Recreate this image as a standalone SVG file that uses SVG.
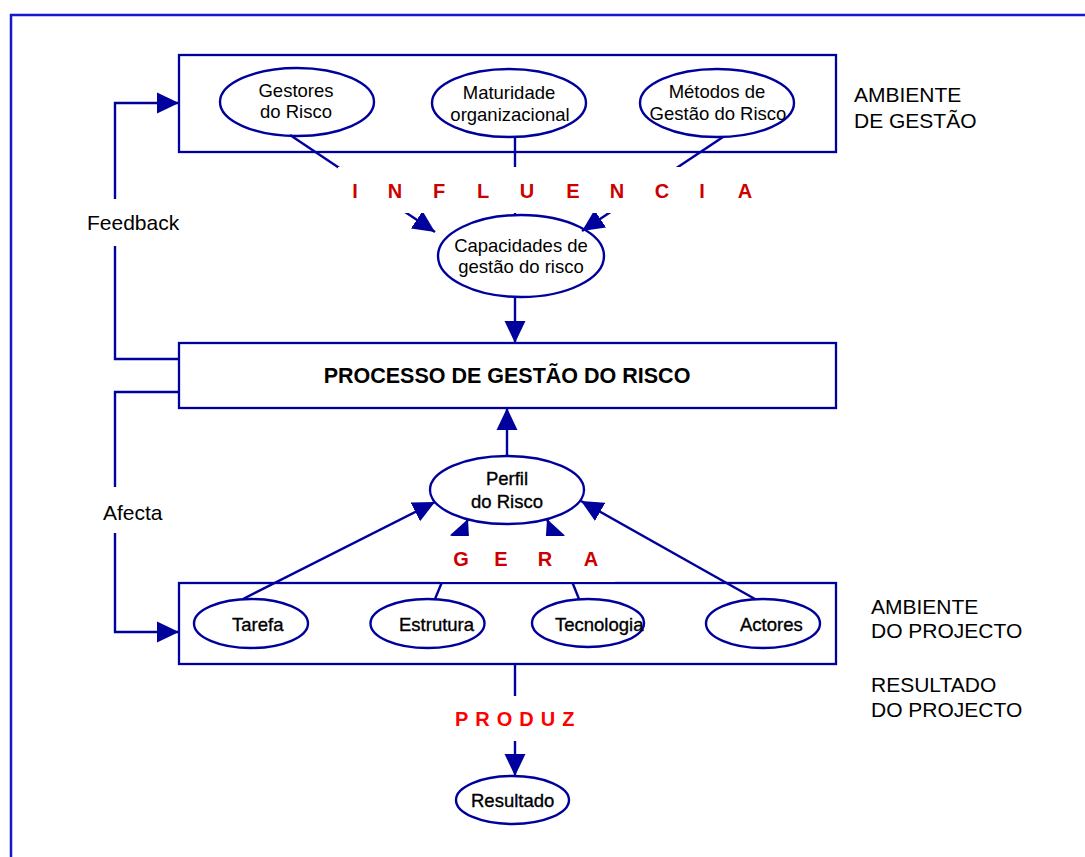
<svg xmlns="http://www.w3.org/2000/svg" width="1085" height="857" viewBox="0 0 1085 857">
  <defs>
    <style>
      .frame { fill: none; stroke: #1717CC; stroke-width: 2.5; }
      .box { fill: #FFFFFF; stroke: #00009C; stroke-width: 2.3; }
      .node { fill: #FFFFFF; stroke: #00009C; stroke-width: 2.4; }
      .conn { fill: none; stroke: #00009C; stroke-width: 2.4; }
      .bg { fill: #FFFFFF; stroke: none; }
      .t { font-family: "Liberation Sans", Arial, sans-serif; font-size: 18.5px; fill: #000000; }
      .tb { stroke: #000000; stroke-width: 0.35; }
      .lbl { font-family: "Liberation Sans", Arial, sans-serif; font-size: 21px; fill: #000000; }
      .title { font-family: "Liberation Sans", Arial, sans-serif; font-size: 21.5px; font-weight: bold; fill: #000000; }
      .verb { font-family: "Liberation Sans", Arial, sans-serif; font-size: 20px; font-weight: bold; fill: #CC0000; }
      .verb2 { font-family: "Liberation Sans", Arial, sans-serif; font-size: 20px; font-weight: bold; fill: #FF0000; letter-spacing: 7px; }
    </style>
    <marker id="arrow" markerUnits="userSpaceOnUse" markerWidth="22" markerHeight="22" viewBox="0 0 21 20" refX="21" refY="10" orient="auto">
      <path d="M0,0 L21,10 L0,20 Z" fill="#00009C"/>
    </marker>
  </defs>

  <!-- page frame -->
  <path class="frame" d="M11,857 L11,15 L1085,15"/>

  <!-- management environment -->
  <g id="ambiente-gestao">
    <rect class="box" x="179" y="55" width="657" height="97"/>
  </g>
  <g id="gestores">
    <ellipse class="node" cx="297" cy="102" rx="77" ry="34"/>
    <text class="t" x="296" y="97" text-anchor="middle">Gestores</text>
    <text class="t" x="296" y="118" text-anchor="middle">do Risco</text>
  </g>
  <g id="maturidade">
    <ellipse class="node" cx="509" cy="103" rx="77" ry="34"/>
    <text class="t" x="509" y="99" text-anchor="middle">Maturidade</text>
    <text class="t" x="510" y="121" text-anchor="middle">organizacional</text>
  </g>
  <g id="metodos">
    <ellipse class="node" cx="717" cy="103" rx="77" ry="34"/>
    <text class="t" x="717" y="98" text-anchor="middle">Métodos de</text>
    <text class="t" x="718" y="120" text-anchor="middle">Gestão do Risco</text>
  </g>
  <g id="capacidades">
    <ellipse class="node" cx="521" cy="256" rx="83" ry="41"/>
    <text class="t" x="521" y="252" text-anchor="middle">Capacidades de</text>
    <text class="t" x="521" y="273" text-anchor="middle">gestão do risco</text>
  </g>

  <!-- risk management process -->
  <g id="processo">
    <rect class="box" x="179" y="343" width="657" height="65"/>
    <text class="title" x="507" y="383" text-anchor="middle">PROCESSO DE GESTÃO DO RISCO</text>
  </g>

  <g id="perfil">
    <ellipse class="node" cx="507" cy="490" rx="77" ry="34"/>
    <text class="t tb" x="507" y="485" text-anchor="middle">Perfil</text>
    <text class="t tb" x="507" y="508" text-anchor="middle">do Risco</text>
  </g>

  <!-- project environment -->
  <g id="ambiente-projecto">
    <rect class="box" x="179" y="583" width="657" height="81"/>
  </g>
  <g id="tarefa">
    <ellipse class="node" cx="251" cy="623.5" rx="57" ry="24.5"/>
    <text class="t tb" x="232" y="631">Tarefa</text>
  </g>
  <g id="estrutura">
    <ellipse class="node" cx="427.5" cy="623.5" rx="57" ry="24.5"/>
    <text class="t tb" x="399" y="631">Estrutura</text>
  </g>
  <g id="tecnologia">
    <ellipse class="node" cx="588" cy="623" rx="56" ry="24"/>
    <text class="t tb" x="555" y="631">Tecnologia</text>
  </g>
  <g id="actores">
    <ellipse class="node" cx="763" cy="623.5" rx="57" ry="24.5"/>
    <text class="t tb" x="740" y="631">Actores</text>
  </g>

  <g id="resultado">
    <ellipse class="node" cx="512.5" cy="800" rx="56.5" ry="24"/>
    <text class="t tb" x="471" y="807">Resultado</text>
  </g>

  <!-- connectors -->
  <g id="connectors">
    <line class="conn" x1="290" y1="135" x2="435" y2="232" marker-end="url(#arrow)"/>
    <line class="conn" x1="515" y1="137" x2="515" y2="215"/>
    <line class="conn" x1="723" y1="137" x2="582" y2="231" marker-end="url(#arrow)"/>
    <line class="conn" x1="515" y1="297" x2="515" y2="343" marker-end="url(#arrow)"/>
    <line class="conn" x1="507" y1="456" x2="507" y2="408" marker-end="url(#arrow)"/>
    <line class="conn" x1="243" y1="599" x2="435" y2="502" marker-end="url(#arrow)"/>
    <line class="conn" x1="435" y1="599" x2="468" y2="519" marker-end="url(#arrow)"/>
    <line class="conn" x1="579" y1="599" x2="547" y2="519" marker-end="url(#arrow)"/>
    <line class="conn" x1="755" y1="599" x2="581" y2="501" marker-end="url(#arrow)"/>
    <line class="conn" x1="515" y1="664" x2="515" y2="776" marker-end="url(#arrow)"/>
    <path class="conn" d="M179,359 L115,359 L115,103 L179,103" marker-end="url(#arrow)"/>
    <path class="conn" d="M179,392 L115,392 L115,632 L179,632" marker-end="url(#arrow)"/>
  </g>

  <!-- connector labels -->
  <g id="label-influencia">
    <rect class="bg" x="338" y="167" width="422" height="46"/>
    <text class="verb" y="198" text-anchor="middle"><tspan x="355">I</tspan><tspan x="395">N</tspan><tspan x="439">F</tspan><tspan x="483">L</tspan><tspan x="527">U</tspan><tspan x="573">E</tspan><tspan x="617">N</tspan><tspan x="662">C</tspan><tspan x="702">I</tspan><tspan x="745">A</tspan></text>
  </g>
  <g id="label-gera">
    <rect class="bg" x="440" y="536" width="175" height="46"/>
    <text class="verb" y="566" text-anchor="middle"><tspan x="461">G</tspan><tspan x="501">E</tspan><tspan x="545">R</tspan><tspan x="591">A</tspan></text>
  </g>
  <g id="label-produz">
    <rect class="bg" x="448" y="696" width="135" height="45"/>
    <text class="verb2" x="455" y="726">PRODUZ</text>
  </g>
  <g id="label-feedback">
    <rect class="bg" x="85" y="199" width="96" height="47"/>
    <text class="lbl" x="87" y="230">Feedback</text>
  </g>
  <g id="label-afecta">
    <rect class="bg" x="100" y="487" width="66" height="46"/>
    <text class="lbl" x="103" y="520">Afecta</text>
  </g>

  <!-- side captions -->
  <g id="caption-gestao">
    <text class="lbl" x="854" y="102">AMBIENTE</text>
    <text class="lbl" x="854" y="128">DE GESTÃO</text>
  </g>
  <g id="caption-projecto">
    <text class="lbl" x="871" y="614">AMBIENTE</text>
    <text class="lbl" x="871" y="638">DO PROJECTO</text>
  </g>
  <g id="caption-resultado">
    <text class="lbl" x="871" y="692">RESULTADO</text>
    <text class="lbl" x="871" y="717">DO PROJECTO</text>
  </g>
</svg>
